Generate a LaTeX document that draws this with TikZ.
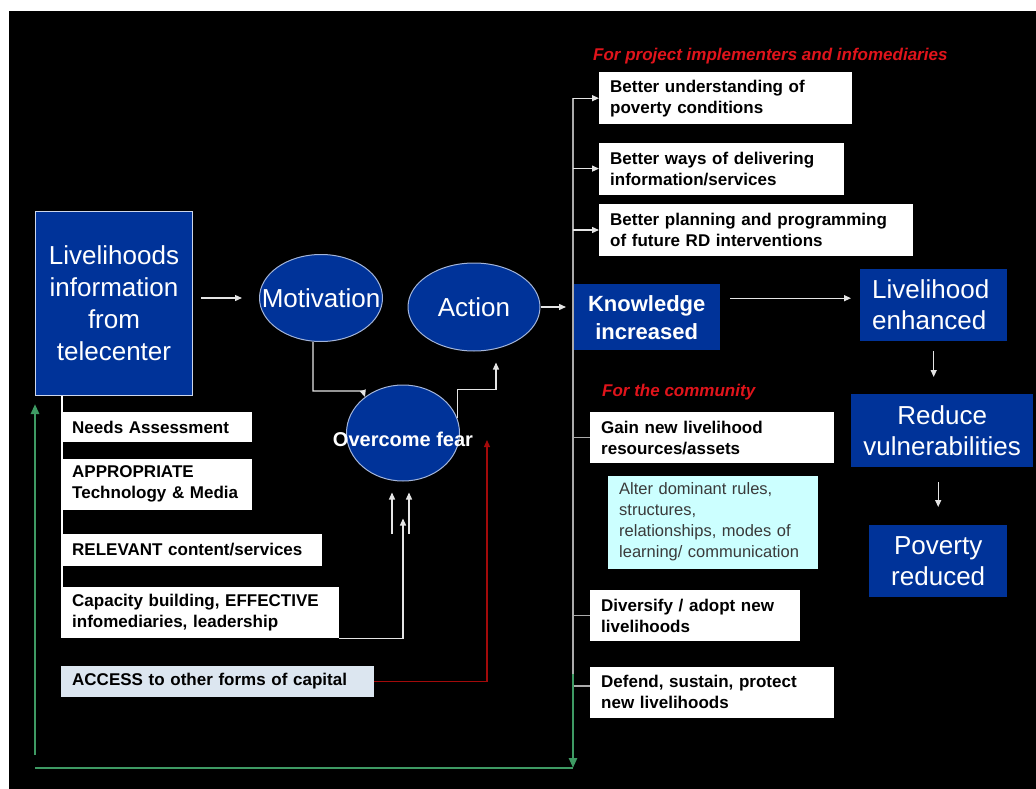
\documentclass[tikz,border=0pt]{standalone}
\usepackage{fontspec}
\setmainfont{Liberation Sans}
\usepackage{xcolor}
\usepackage{tikz}
\usetikzlibrary{
    shapes.geometric,
    arrows.meta,
    positioning,
    calc
}
\definecolor{rdblue}{HTML}{003399}
\definecolor{rdrim}{HTML}{A3B5DA}
\definecolor{rdred}{HTML}{E0141B}
\definecolor{rddarkred}{HTML}{A30A0A}
\definecolor{rdgreen}{HTML}{3E9A63}
\definecolor{rdgray}{HTML}{ABABAB}
\definecolor{rdcyan}{HTML}{CCFFFF}
\definecolor{rdpale}{HTML}{DCE6F0}
\definecolor{rdink}{HTML}{3A3A3A}
\tikzset{
    % Blue outcome box
    outcomebox/.style={
        rectangle,
        fill=rdblue,
        text=white,
        font=\fontsize{26}{31}\selectfont,
        align=center,
        inner sep=0pt
    },
    % Blue stage oval
    stageoval/.style={
        ellipse,
        draw=rdrim,
        fill=rdblue,
        line width=1pt,
        inner sep=0pt
    },
    ovaltext/.style={
        text=white,
        font=\fontsize{26}{31}\selectfont,
        inner sep=0pt
    },
    % Factor box
    factorbox/.style={
        rectangle,
        fill=#1,
        text=black,
        font=\fontsize{17}{21}\selectfont\bfseries,
        align=left,
        inner xsep=11pt,
        inner ysep=0pt,
        anchor=north west
    },
    factorbox/.default=white,
    % Group heading
    groupnote/.style={
        text=rdred,
        font=\fontsize{17}{21}\selectfont\bfseries\itshape,
        inner sep=0pt,
        anchor=west
    },
    % Arrow style
    flowarrow/.style={
        -{Triangle[length=7pt,width=6pt]},
        line width=1.3pt,
        color=#1
    },
    flowarrow/.default=white!90!black,
    % Branch line
    trunkline/.style={
        line width=1.5pt,
        color=rdgray
    },
    % Feedback loop
    loopline/.style={
        line width=2.5pt,
        color=rdgreen
    }
}

\begin{document}
\begin{tikzpicture}[x=1pt, y=-1pt]

    % Page and slide
    \useasboundingbox (0,0) rectangle (1036,789);
    \fill[white] (0,0) rectangle (1036,789);
    \fill[black] (9,11) rectangle (1036,789);

    % Source box (left)
    \node[outcomebox, draw=white!80!rdblue, line width=1pt, font=\fontsize{26}{32}\selectfont, minimum width=157pt, minimum height=184pt, anchor=north west] (info) at (35,211) {Livelihoods\\information\\from\\telecenter};

    % Stages (middle)
    \node[stageoval, minimum width=123pt, minimum height=87pt, label={[ovaltext]center:Motivation}] (motiv) at (321,298) {};
    \node[stageoval, minimum width=132pt, minimum height=88pt, label={[ovaltext]center:Action}] (action) at (474,307) {};
    \node[stageoval, minimum width=113pt, minimum height=96pt, label={[ovaltext, font=\fontsize{20}{24}\selectfont\bfseries, yshift=-6pt]center:Overcome fear}] (fear) at (403,433) {};

    % Outcome chain (right)
    \node[outcomebox, font=\fontsize{22}{28}\selectfont\bfseries, minimum width=147pt, minimum height=66pt, anchor=north west] (know) at (573,284) {Knowledge\\increased};
    \node[outcomebox, align=left, text width=123pt, inner xsep=12pt, minimum height=72pt, anchor=north west] (liveli) at (860,269) {Livelihood\\enhanced};
    \node[outcomebox, minimum width=182pt, minimum height=73pt, anchor=north west] (reduce) at (851,394) {Reduce\\vulnerabilities};
    \node[outcomebox, minimum width=138pt, minimum height=72pt, anchor=north west] (poverty) at (869,525) {Poverty\\reduced};

    % Enabling factors (left column)
    \node[factorbox, text width=169pt, minimum height=30pt] (needs) at (61,412) {Needs Assessment};
    \node[factorbox, below=16pt of needs.south west, anchor=north west, text width=169pt, minimum height=51pt] (approp) {APPROPRIATE\\Technology \& Media};
    \node[factorbox, below=24pt of approp.south west, anchor=north west, text width=239pt, minimum height=32pt] (relevant) {RELEVANT content/services};
    \node[factorbox, below=21pt of relevant.south west, anchor=north west, text width=256pt, minimum height=51pt] (capacity) {Capacity building, EFFECTIVE\\infomediaries, leadership};
    \node[factorbox=rdpale, below=27pt of capacity.south west, anchor=north west, text width=291pt, minimum height=31pt] (access) {ACCESS to other forms of capital};

    % Group headings
    \node[groupnote] (note-impl) at (593,56) {For project implementers and infomediaries};
    \node[groupnote] (note-comm) at (602,392) {For the community};

    % Results for implementers
    \node[factorbox, text width=231pt, minimum height=52pt] (better1) at (599,72) {Better understanding of\\poverty conditions};
    \node[factorbox, below=18pt of better1.south west, anchor=north west, text width=223pt, minimum height=52pt] (better2) {Better ways of delivering\\information/services};
    \node[factorbox, below=9pt of better2.south west, anchor=north west, text width=292pt, minimum height=52pt] (better3) {Better planning and programming\\of future RD interventions};

    % Results for the community
    \node[factorbox, text width=222pt, minimum height=51pt] (gain) at (590,412) {Gain new livelihood\\resources/assets};
    \node[factorbox=rdcyan, below=12pt of gain.south west, anchor=north west, xshift=18pt, text=rdink, font=\fontsize{16.5}{21}\selectfont, text width=188pt, minimum height=93pt] (alter) {Alter dominant rules,\\structures,\\relationships, modes of\\learning/ communication};
    \node[factorbox, text width=188pt, minimum height=51pt] (diversify) at (590,590) {Diversify / adopt new\\livelihoods};
    \node[factorbox, below=25pt of diversify.south west, anchor=north west, text width=222pt, minimum height=51pt] (defend) {Defend, sustain, protect\\new livelihoods};

    % Main flow
    \draw[flowarrow, shorten <=8pt, shorten >=17pt] (info.east |- motiv.west) -- (motiv.west);
    \draw[flowarrow, shorten >=7pt] (action.east) -- (action.east -| know.west);
    \draw[flowarrow, shorten <=10pt, shorten >=9pt] ([yshift=19pt]know.east) -- ([yshift=19pt]know.east -| liveli.west);
    \draw[flowarrow, shorten <=10pt, shorten >=17pt] (liveli.south) -- (liveli.south |- reduce.north);
    \draw[flowarrow, shorten <=15pt, shorten >=18pt] (poverty.north |- reduce.south) -- (poverty.north);

    % Motivation, fear and action
    \draw[flowarrow] ([xshift=-8pt]motiv.south) |- ([xshift=-40pt,yshift=42pt]fear.center) -- ([xshift=-38pt,yshift=36pt]fear.center);
    \draw[flowarrow] (fear.15) -- ++(0,-29) -| ([xshift=22pt,yshift=-11pt]action.south);

    % Factors into fear
    \draw[white, line width=1.3pt] ([xshift=27pt]info.south west) -- ([xshift=1pt]capacity.north west);
    \coordinate (extra-a) at (392,534);
    \coordinate (extra-b) at (409,534);
    \draw[flowarrow] (extra-a) -- ([xshift=-11pt,yshift=-11pt]fear.south);
    \draw[flowarrow] (extra-b) -- ([xshift=6pt,yshift=-11pt]fear.south);
    \draw[flowarrow] (capacity.south east) -| ([yshift=-37pt]fear.south);
    \draw[flowarrow=rddarkred, line width=1.2pt] (access.east) -| ([xshift=27pt,yshift=-7pt]fear.east);

    % Knowledge branches
    \draw[trunkline] (better1.west -| know.west) -- ([yshift=18pt]defend.west -| know.west);
    \draw[flowarrow] (better1.west -| know.west) -- (better1.west);
    \draw[flowarrow] (better2.west -| know.west) -- (better2.west);
    \draw[flowarrow] (better3.west -| know.west) -- (better3.west);
    \draw[trunkline] (gain.west -| know.west) -- (gain.west);
    \draw[trunkline] (diversify.west -| know.west) -- (diversify.west);
    \draw[trunkline] ([yshift=6pt]defend.west -| know.west) -- ([yshift=6pt]defend.west);

    % Feedback loop
    \coordinate (loop-r) at (573,768);
    \coordinate (loop-l) at (35,768);
    \draw[loopline, -{Triangle[length=10pt,width=8pt]}] ([yshift=18pt]defend.west -| know.west) -- (loop-r);
    \draw[loopline] (loop-r) -- (loop-l);
    \draw[loopline, -{Triangle[length=10pt,width=8pt]}] ([yshift=13pt]loop-l) -- ([yshift=-8pt]info.south west);

\end{tikzpicture}
\end{document}
